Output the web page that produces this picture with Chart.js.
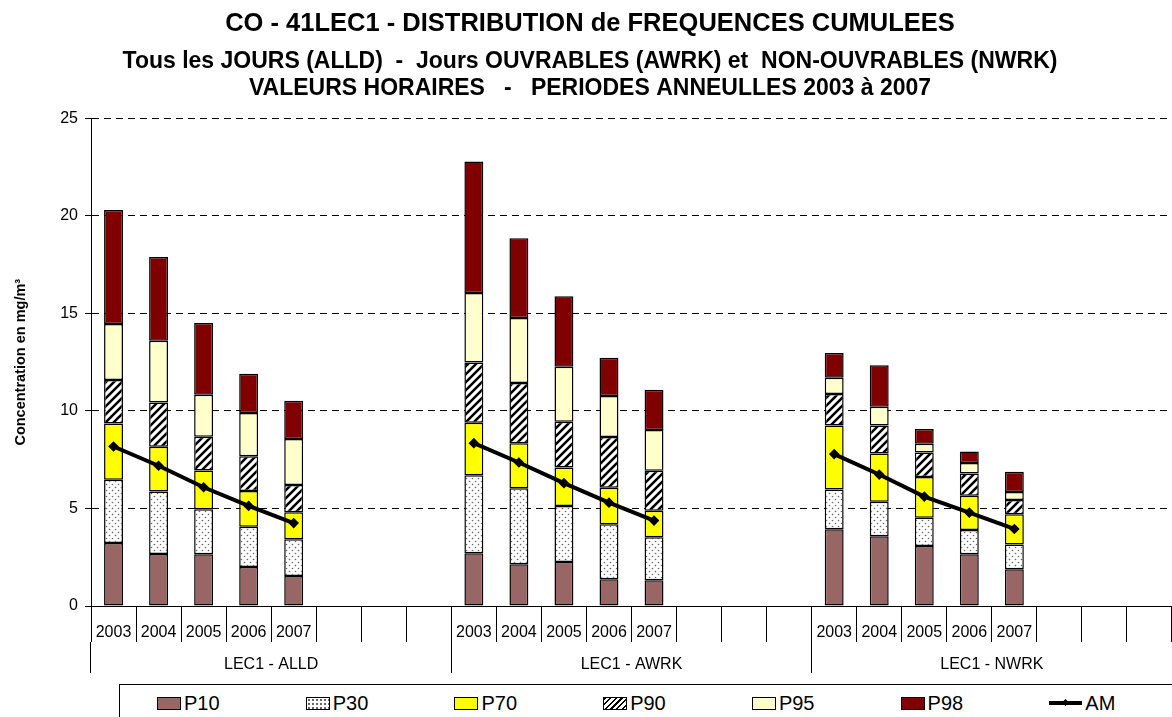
<!DOCTYPE html>
<html>
<head>
<meta charset="utf-8">
<script src="https://cdn.jsdelivr.net/npm/chart.js@4"></script>
<style>
  body { margin: 0; overflow: hidden; background: #fff; font-family: Arial, "Liberation Sans", sans-serif; }
  #wrap { position: relative; width: 1180px; height: 717px; }
  #legend {
    position: absolute; left: 119px; top: 684px; width: 1080px; height: 40px;
    border: 1px solid #000; box-sizing: border-box; background: #fff;
    display: flex; padding-left: 37px;
  }
  .item { width: 150px; height: 36px; display: flex; align-items: center; font-size: 20px; color: #000; }
  .swatch { width: 24px; height: 13px; border: 1px solid #000; box-sizing: border-box; margin-right: 3px; }
  .am { position: relative; width: 33px; height: 4px; background: #000; margin-right: 3px; }
  .am i { position: absolute; left: 14px; top: -1.5px; width: 5px; height: 5px; background: #000; transform: rotate(45deg); }
</style>
</head>
<body>
<div id="wrap">
  <canvas id="chart" width="1180" height="717"></canvas>
  <div id="legend"></div>
</div>
<script>
const years = ['2003', '2004', '2005', '2006', '2007'];
const groups = ['LEC1 - ALLD', 'LEC1 - AWRK', 'LEC1 - NWRK'];
const emptySlots = 3;

// percentiles per group (ALLD, AWRK, NWRK), years 2003..2007
const p10 = [3.23, 2.67, 2.65, 2.0, 1.54, 2.71, 2.14, 2.26, 1.37, 1.32, 3.94, 3.58, 3.08, 2.65, 1.88];
const p30 = [6.47, 5.87, 4.96, 4.06, 3.42, 6.71, 6.04, 5.13, 4.19, 3.53, 5.97, 5.35, 4.52, 3.9, 3.15];
const p70 = [9.36, 8.16, 6.95, 5.9, 4.81, 9.39, 8.35, 7.1, 6.06, 4.89, 9.26, 7.82, 6.62, 5.65, 4.71];
const p90 = [11.59, 10.44, 8.68, 7.68, 6.2, 12.49, 11.43, 9.45, 8.66, 6.93, 10.87, 9.26, 7.87, 6.79, 5.44];
const p95 = [14.46, 13.6, 10.83, 9.89, 8.56, 16.05, 14.77, 12.27, 10.77, 9.02, 11.7, 10.22, 8.32, 7.33, 5.84];
const p98 = [20.3, 17.9, 14.51, 11.91, 10.52, 22.79, 18.86, 15.88, 12.73, 11.09, 12.97, 12.34, 9.07, 7.92, 6.88];
const am = [8.18, 7.19, 6.09, 5.13, 4.25, 8.35, 7.36, 6.3, 5.3, 4.38, 7.79, 6.74, 5.61, 4.79, 3.95];
const yTicks = [0, 5, 10, 15, 20, 25];

Chart.defaults.font.family = 'Arial, "Liberation Sans", sans-serif';
Chart.defaults.color = '#000';

// spread 15 values over 3 groups of 5 years + empty slots
function toSlots(values) {
  const out = [];
  groups.forEach((g, gi) => {
    years.forEach((y, yi) => out.push(values[gi * years.length + yi]));
    for (let k = 0; k < emptySlots; k++) out.push(null);
  });
  return out;
}

function ranges(lower, upper) {
  return toSlots(upper.map((v, i) => [lower ? lower[i] : 0, v]));
}

const labels = groups.flatMap(() => years.concat(Array(emptySlots).fill('')));

function dotPattern() {
  const c = document.createElement('canvas');
  c.width = 6; c.height = 6;
  const g = c.getContext('2d');
  g.fillStyle = '#fff';
  g.fillRect(0, 0, 6, 6);
  g.fillStyle = '#666';
  g.beginPath(); g.arc(1.5, 1.5, 0.8, 0, Math.PI * 2); g.fill();
  g.beginPath(); g.arc(4.5, 4.5, 0.8, 0, Math.PI * 2); g.fill();
  return g.createPattern(c, 'repeat');
}

function hatchPattern() {
  const s = 8;
  const c = document.createElement('canvas');
  c.width = s; c.height = s;
  const g = c.getContext('2d');
  g.fillStyle = '#fff';
  g.fillRect(0, 0, s, s);
  g.strokeStyle = '#000';
  g.lineWidth = 2.5;
  g.beginPath();
  g.moveTo(-2, 2); g.lineTo(2, -2);
  g.moveTo(0, s); g.lineTo(s, 0);
  g.moveTo(s - 2, s + 2); g.lineTo(s + 2, s - 2);
  g.stroke();
  return g.createPattern(c, 'repeat');
}

const barStyle = {
  borderColor: '#000',
  borderWidth: 1.5,
  borderSkipped: false,
  grouped: false,
  barPercentage: 0.42,
  categoryPercentage: 1
};

// css used for the html legend swatches
const swatchCss = {
  P10: '#996666',
  P30: '#fff radial-gradient(circle, #666 0.8px, transparent 1.2px) 0 0 / 4px 4px',
  P70: '#ffff00',
  P90: 'repeating-linear-gradient(135deg, #000 0 1.6px, #fff 1.6px 4px)',
  P95: '#ffffcc',
  P98: '#800000'
};

const chart = new Chart(document.getElementById('chart'), {
  type: 'bar',
  data: {
    labels: labels,
    datasets: [
      { label: 'P10', data: ranges(null, p10), backgroundColor: '#996666', ...barStyle },
      { label: 'P30', data: ranges(p10, p30), backgroundColor: dotPattern(), ...barStyle },
      { label: 'P70', data: ranges(p30, p70), backgroundColor: '#ffff00', ...barStyle },
      { label: 'P90', data: ranges(p70, p90), backgroundColor: hatchPattern(), ...barStyle },
      { label: 'P95', data: ranges(p90, p95), backgroundColor: '#ffffcc', ...barStyle },
      { label: 'P98', data: ranges(p95, p98), backgroundColor: '#800000', ...barStyle },
      {
        type: 'line',
        label: 'AM',
        data: toSlots(am),
        borderColor: '#000',
        borderWidth: 4,
        pointStyle: 'rectRot',
        pointRadius: 2.5,
        pointBackgroundColor: '#000',
        pointBorderColor: '#000',
        spanGaps: false,
        order: -1
      }
    ]
  },
  options: {
    responsive: false,
    animation: false,
    layout: { padding: { top: 0, right: 0, bottom: 44, left: 0 } },
    plugins: {
      legend: { display: false },
      tooltip: { enabled: false },
      title: {
        display: true,
        text: 'CO - 41LEC1 - DISTRIBUTION de FREQUENCES CUMULEES',
        color: '#000',
        font: { size: 25.5, weight: 'bold' },
        padding: { top: 9, bottom: 0 }
      },
      subtitle: {
        display: true,
        text: [
          'Tous les JOURS (ALLD)  -  Jours OUVRABLES (AWRK) et  NON-OUVRABLES (NWRK)',
          'VALEURS HORAIRES   -   PERIODES ANNEULLES 2003 à 2007'
        ],
        color: '#000',
        font: { size: 23, weight: 'bold', lineHeight: 1.17 },
        padding: { top: 9, bottom: 16 }
      }
    },
    scales: {
      x: {
        type: 'category',
        offset: true,
        weight: 0,
        grid: { offset: true, drawOnChartArea: false, color: '#000', lineWidth: 1, tickLength: 36 },
        border: { color: '#000', width: 1 },
        ticks: { autoSkip: false, maxRotation: 0, padding: -19, font: { size: 16 } },
        afterFit: (s) => { s.height = 36; }
      },
      x2: {
        type: 'category',
        labels: groups,
        position: 'bottom',
        offset: true,
        weight: 1,
        grid: { offset: true, drawOnChartArea: false, color: '#000', lineWidth: 1, tickLength: 31 },
        border: { display: false },
        ticks: { autoSkip: false, maxRotation: 0, padding: -18, font: { size: 16 } },
        afterFit: (s) => { s.height = 31; }
      },
      y: {
        min: 0,
        max: 25,
        afterBuildTicks: (s) => { s.ticks = yTicks.map((v) => ({ value: v })); },
        ticks: { padding: 7, font: { size: 16 } },
        grid: { color: '#000', lineWidth: 1, tickLength: 6, tickColor: '#000' },
        border: { color: '#000', width: 1, dash: [7, 5] },
        title: {
          display: true,
          text: 'Concentration en mg/m³',
          font: { size: 14.5, weight: 'bold' },
          padding: { top: 12, bottom: 0 }
        },
        afterFit: (s) => { s.width = 91; }
      }
    }
  }
});

// html legend built from the datasets
const legend = document.getElementById('legend');
chart.data.datasets.forEach((ds) => {
  const item = document.createElement('div');
  item.className = 'item';
  const mark = document.createElement('span');
  if (ds.type === 'line') {
    mark.className = 'am';
    mark.appendChild(document.createElement('i'));
  } else {
    mark.className = 'swatch';
    mark.style.background = swatchCss[ds.label];
  }
  item.appendChild(mark);
  item.appendChild(document.createTextNode(ds.label));
  legend.appendChild(item);
});
</script>
</body>
</html>
